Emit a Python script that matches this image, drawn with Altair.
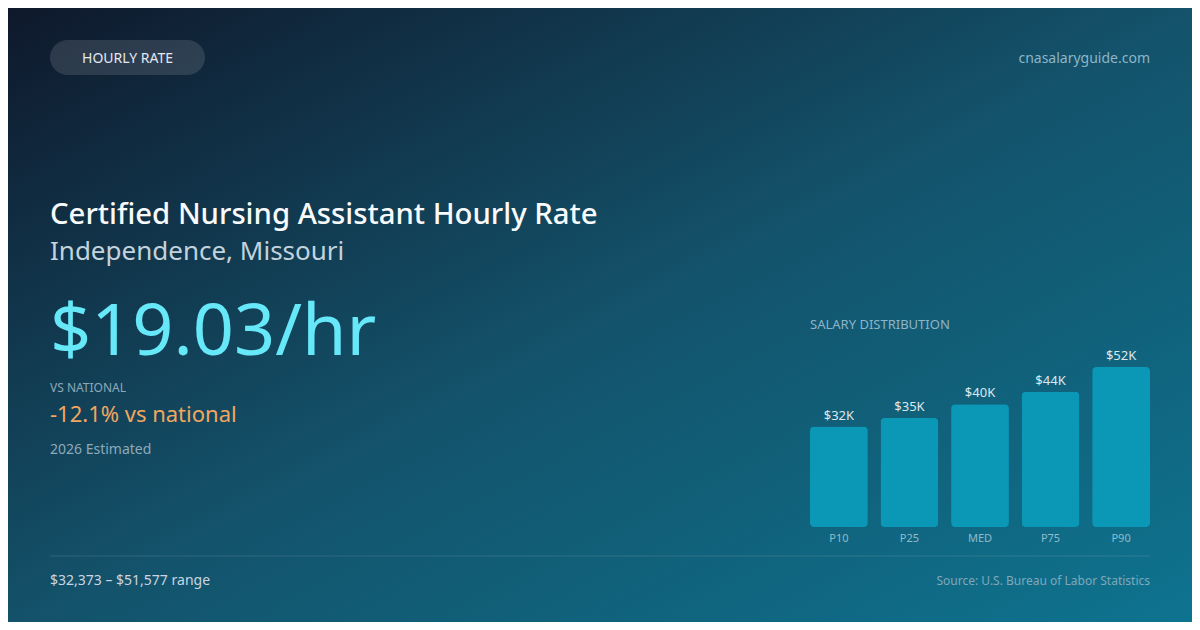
import altair as alt
import pandas as pd

# ---- data ----
percentiles = ["P10", "P25", "MED", "P75", "P90"]
salaries = [32373, 35100, 39582, 43600, 51577]
salary_labels = ["$32K", "$35K", "$40K", "$44K", "$52K"]

badge_text = "HOURLY RATE"
site_text = "cnasalaryguide.com"
title_text = "Certified Nursing Assistant Hourly Rate"
subtitle_text = "Independence, Missouri"
rate_text = "$19.03/hr"
vs_label_text = "VS NATIONAL"
vs_value_text = "-12.1% vs national"
estimate_text = "2026 Estimated"
dist_title_text = "SALARY DISTRIBUTION"
range_text = "$32,373 \u2013 $51,577 range"
source_text = "Source: U.S. Bureau of Labor Statistics"

# ---- layout ----
OFF = 8  # page margin
W, H = 1200 - 2 * OFF, 630 - 2 * OFF
FONT = "Noto Sans"


def px(v):
    return v - OFF


one = alt.Data(values=[{"k": 1}])
bars_df = pd.DataFrame({"pct": percentiles, "salary": salaries, "label": salary_labels})

bg = alt.Chart(one).mark_rect(
    fill=alt.LinearGradient(
        gradient="linear",
        stops=[
            alt.GradientStop(color="#0f172a", offset=0),
            alt.GradientStop(color="#13526a", offset=0.5),
            alt.GradientStop(color="#0e7490", offset=1),
        ],
        x1=0, y1=0, x2=1, y2=1,
    )
).encode(x=alt.value(-OFF), x2=alt.value(W + OFF), y=alt.value(-OFF), y2=alt.value(H + OFF))

pill = alt.Chart(one).mark_rect(
    cornerRadius=17.5, fill="#ffffff", fillOpacity=0.12
).encode(x=alt.value(px(50)), x2=alt.value(px(205)), y=alt.value(px(40)), y2=alt.value(px(75)))


def txt(s, x, y, size, color, align="left", baseline="alphabetic", weight="normal"):
    return alt.Chart(one).mark_text(
        text=s, align=align, baseline=baseline, fontSize=size, color=color,
        fontWeight=weight, font=FONT,
    ).encode(x=alt.value(px(x)), y=alt.value(px(y)))


texts = [
    txt(badge_text, 127.5, 58.5, 14, "#e2e8f0", align="center", baseline="middle"),
    txt(site_text, 1150, 59, 14, "#8db5c7", align="right", baseline="middle"),
    txt(title_text, 50, 224, 29.3, "#f8fafc", weight=500),
    txt(subtitle_text, 50, 259.5, 26, "#c3d3de"),
    txt(rate_text, 50, 355, 72, "#67e8f9"),
    txt(vs_label_text, 50, 392, 12, "#8ea9ba"),
    txt(vs_value_text, 50, 421.5, 22, "#f2a65f"),
    txt(dist_title_text, 810, 325, 13, "#8db5c7", baseline="middle"),
    txt(estimate_text, 50, 454, 14, "#8ea9ba"),
    txt(range_text, 50, 581, 14, "#cbd5e1", baseline="middle"),
    txt(source_text, 1150, 581, 12, "#7fa8bb", align="right", baseline="middle"),
]

rule = alt.Chart(one).mark_rule(color="#ffffff", opacity=0.12, strokeWidth=1).encode(
    x=alt.value(px(50)), x2=alt.value(px(1150)), y=alt.value(px(556))
)

x_enc = alt.X(
    "pct:N", sort=percentiles, axis=None,
    scale=alt.Scale(range=[px(810), px(1150)], paddingInner=0.18, paddingOuter=0),
)
y_enc = alt.Y(
    "salary:Q", axis=None,
    scale=alt.Scale(domain=[0, max(salaries)], nice=False, zero=True, range=[px(527), px(367)]),
)

bars = alt.Chart(bars_df).mark_bar(cornerRadius=4, color="#0b97b6").encode(x=x_enc, y=y_enc)

value_labels = alt.Chart(bars_df).mark_text(
    dy=-7, baseline="alphabetic", fontSize=13, color="#dde7ee", font=FONT
).encode(x=x_enc, y=y_enc, text="label:N")

cat_labels = alt.Chart(bars_df).mark_text(
    baseline="middle", fontSize=11, color="#8fbccd", font=FONT
).encode(x=x_enc, y=alt.value(px(539)), text="pct:N")

chart = alt.layer(bg, pill, *texts, rule, bars, value_labels, cat_labels).properties(
    width=W, height=H, padding=0, autosize="none"
).configure_view(stroke=None)

chart.save("out.html", embed_options={"renderer": "svg", "actions": False})
